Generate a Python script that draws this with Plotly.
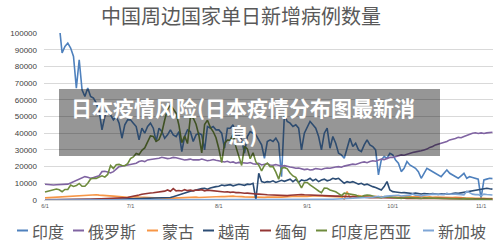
import plotly.graph_objects as go
import pandas as pd

# ---------------- data ----------------
start_date = "2021-06-01"
end_date = "2021-11-05"
dates = pd.date_range(start_date, end_date, freq="D")

x_tick_dates = ["2021-06-01", "2021-07-01", "2021-08-01", "2021-09-01", "2021-10-01", "2021-11-01"]
x_tick_labels = ["6/1", "7/1", "8/1", "9/1", "10/1", "11/1"]
y_tick_values = [0, 10000, 20000, 30000, 40000, 50000, 60000, 70000, 80000, 90000, 100000]

india = [
    130000, 134000, 132000, 127000, 118000, 105000, 88000, 92000, 94000, 91000,
    86000, 67000, 84000, 66000, 62000, 67000, 62000, 61000, 58000, 53000,
    42000, 50000, 54000, 51000, 48000, 50000, 46000, 37000, 45000, 48000,
    48000, 46000, 44000, 36000, 43000, 40000, 44000, 46000, 43000, 35000,
    43000, 41000, 37000, 39000, 42000, 39000, 38000, 41000, 29000, 38000,
    42000, 41000, 35000, 39000, 40000, 39000, 30000, 44000, 43000, 44000, 42000,
    42000, 40000, 31000, 43000, 43000, 45000, 39000, 39000, 36000, 28000,
    38000, 41000, 40000, 39000, 36000, 33000, 25000, 35000, 36000, 35000,
    37000, 34000, 14000, 51000, 47000, 46000, 44000, 45000, 43000, 30000, 40000,
    44000, 47000, 45000, 43000, 38000, 30000, 40000, 43000, 31000, 38000,
    34000, 28000, 27000, 25000, 31000, 37000, 32000, 34000, 30000, 29000,
    33000, 36000, 33000, 32000, 30000, 15000, 24000, 26000, 25000, 28000,
    27000, 24000, 22000, 17000, 19000, 23000, 21000, 20000, 19000, 17000,
    13000, 16000, 19000, 18000, 17000, 16000, 15000, 14000, 16000, 18000,
    16000, 15000, 14000, 13000, 14500, 16000, 13000, 14000, 13500, 13000, 12500,
    1000, 12000, 12500, 13000, 12800,
]
russia = [
    9400, 9200, 9000, 9000, 9100, 9200, 9300, 9600, 9500, 10200,
    11000, 11500, 12300, 13200, 14000, 13600, 13000, 13400, 13800, 14500,
    17000, 17200, 16800, 16200, 17000, 18500, 20000, 20200, 20500, 21000,
    21000, 21500, 22000, 23000, 23500, 23000, 24000, 24300, 24500, 24800,
    25000, 25600, 25200, 24800, 25000, 25500, 25300, 24800, 24500, 24000,
    24200, 24500, 24000, 23800, 24000, 24500, 24000, 23500, 23800, 24200, 23800,
    23500, 23000, 22800, 23200, 22500, 22800, 22000, 22500, 22300, 21800,
    22000, 22400, 21700, 21500, 22000, 21000, 21300, 21800, 21000, 20800,
    21200, 20500, 20200, 20600, 20000, 19800, 19500, 19000, 19200, 18500, 18200,
    18500, 18000, 18200, 18800, 18600, 18300, 18900, 19200, 19000, 19500,
    19800, 20000, 19600, 20300, 20800, 21000, 21500, 21300, 22000, 22500,
    22800, 22300, 23000, 23500, 23200, 24000, 24500, 24200, 25000, 25500,
    25500, 26000, 26500, 27000, 26800, 27500, 28000, 28500, 28800, 29000,
    29500, 30000, 30500, 31500, 32000, 33000, 33500, 34000, 34500, 35000,
    36000, 36300, 36800, 37500, 37300, 38000, 38800, 39300, 40000, 40300, 39800,
    40200, 39800, 40200, 40500, 40600,
]
mongolia = [
    1300, 1400, 1500, 1450, 1600, 1700, 1800, 2000, 2100, 2200,
    2400, 2500, 2700, 2900, 3000, 2900, 2800, 3000, 3100, 2900,
    2700, 2600, 2500, 2400, 2300, 2200, 2000, 1800, 1700, 1600,
    1700, 1900, 2000, 1800, 1700, 1600, 1500, 1600, 1500, 1400,
    1300, 1200, 1000, 600, 900, 1100, 1200, 1300, 1400, 1300,
    1500, 1400, 1600, 1700, 1500, 1600, 1800, 1700, 1900, 2000, 1800,
    1900, 2100, 2000, 2200, 2400, 2300, 2100, 2200, 2000, 1900,
    1800, 1700, 1600, 1800, 1700, 1500, 1600, 1700, 1800, 1700,
    1600, 1800, 1700, 1900, 2000, 2100, 2200, 2300, 2200, 2400, 2300,
    2200, 2400, 2300, 2500, 2400, 2600, 2300, 2200, 2400, 2100,
    2300, 2000, 1800, 400, 5000, 1500, 2400, 2200, 2600, 2300,
    2100, 2400, 2000, 1900, 2200, 1800, 2100, 1700, 1900, 1600,
    1700, 1800, 1600, 1900, 1700, 2000, 1800, 1900, 2100, 1900,
    2000, 1800, 1700, 1900, 1600, 1800, 1700, 1500, 1600, 1700,
    1500, 1400, 1600, 1300, 1400, 1200, 1300, 1100, 1200, 1000, 1100,
    900, 1000, 850, 900, 800,
]
vietnam = [
    150, 180, 200, 180, 250, 300, 220, 280, 250, 300,
    350, 300, 280, 320, 300, 350, 400, 380, 350, 400,
    420, 450, 400, 450, 500, 480, 520, 500, 550, 600,
    650, 700, 750, 800, 850, 900, 800, 1000, 1000, 1100,
    1150, 1200, 1150, 1200, 1500, 2000, 2600, 3200, 3800, 4300,
    4800, 5200, 5500, 6000, 6500, 6800, 7000, 6500, 7200, 7800, 8000,
    8200, 9000, 8600, 8800, 9200, 8500, 9000, 9400, 9100, 8800,
    9500, 9300, 10000, 300, 16000, 11000, 10500, 11000, 10800, 11500,
    10500, 11000, 11800, 11200, 12000, 12500, 11000, 12300, 10500, 12000, 11500,
    12000, 13000, 11500, 12500, 11000, 12000, 12500, 11500, 12000, 13000,
    12500, 13000, 11500, 10000, 11000, 10500, 11000, 10000, 9500, 10000,
    9000, 9500, 8500, 8000, 7500, 6500, 6000, 8000, 11000, 6000,
    5000, 4800, 4500, 4300, 4400, 4200, 4000, 3900, 4100, 3800,
    3600, 3900, 3700, 3500, 3800, 3600, 3400, 3700, 3500, 3800,
    3600, 3900, 4200, 4000, 4300, 4800, 5000, 5200, 5500, 5800, 6000,
    6200, 6800, 7000, 6700, 6500,
]
myanmar = [
    100, 150, 120, 180, 200, 150, 250, 200, 300, 250,
    280, 300, 350, 300, 400, 420, 380, 450, 500, 550,
    600, 650, 700, 750, 850, 900, 1000, 1100, 1300, 1500,
    2000, 2200, 2500, 3000, 3400, 3800, 4000, 4200, 4300, 4500,
    4600, 5000, 5300, 6000, 5200, 6800, 5500, 5700, 5400, 6200,
    5600, 5900, 5500, 6000, 5800, 6200, 5500, 5900, 5700, 5400, 5200,
    5000, 5100, 4800, 4900, 4600, 4800, 4400, 4500, 4200, 4000,
    4100, 3800, 3900, 3600, 3500, 3200, 3300, 3100, 3000, 3100,
    2900, 2800, 2700, 2900, 2600, 2800, 3000, 3200, 3400, 3300, 3100,
    3000, 2900, 2800, 2700, 2600, 2700, 2500, 2600, 2400, 2500,
    2300, 2400, 2200, 2100, 2000, 2100, 1900, 1800, 1700, 1800,
    1600, 1500, 1400, 1500, 1400, 1300, 1400, 1300, 1200, 1300,
    1200, 1300, 1100, 1200, 1100, 1000, 1100, 1000, 1200, 1100,
    1000, 900, 1000, 900, 950, 900, 1000, 850, 900, 800,
    850, 800, 900, 800, 750, 800, 700, 750, 700, 800, 700,
    700, 650, 700, 600, 650,
]
indonesia = [
    4800, 5300, 5400, 6000, 6600, 6100, 5000, 6300, 6300, 8900,
    8100, 8600, 9900, 8200, 8200, 10000, 12600, 13000, 12900, 13700,
    14500, 13700, 15300, 20600, 18900, 21100, 21300, 20700, 20500, 21800,
    24800, 25800, 27900, 27200, 29700, 31200, 34400, 38400, 38100, 35100,
    36200, 40400, 47900, 54500, 56800, 54000, 52000, 44700, 34300, 38300,
    33800, 49500, 49100, 45400, 38700, 28200, 45200, 47800, 43500, 41000, 37300,
    30700, 22400, 33900, 35900, 35800, 39500, 31800, 26400, 20700, 32100,
    30600, 24700, 28300, 22800, 20800, 17400, 20700, 22100, 20000, 20000,
    16700, 12400, 19000, 19500, 18700, 16100, 14400, 13600, 10600, 7300, 10500,
    10500, 9000, 8100, 6700, 5400, 4400, 7200, 7000, 6000, 5600,
    4900, 3800, 2600, 4100, 3900, 3800, 3400, 3000, 2200, 1900,
    2700, 3000, 2800, 2600, 2000, 1600, 1400, 2000, 2100, 1900,
    1600, 1400, 1100, 1000, 1400, 1600, 1400, 1300, 1100, 900,
    900, 1300, 1200, 1100, 1000, 900, 700, 600, 900, 900,
    800, 700, 600, 450, 600, 800, 900, 700, 700, 500, 500,
    400, 600, 700, 500, 400,
]
singapore = [
    15, 20, 25, 18, 20, 15, 13, 12, 15, 18,
    20, 17, 14, 12, 20, 26, 30, 25, 22, 20,
    18, 16, 20, 25, 22, 20, 18, 15, 12, 15,
    15, 18, 25, 30, 20, 15, 30, 45, 50, 60,
    70, 80, 90, 56, 100, 130, 165, 180, 170, 180,
    190, 200, 180, 160, 170, 150, 130, 140, 120, 110, 100,
    100, 110, 100, 90, 80, 90, 85, 80, 70, 60,
    55, 60, 50, 45, 55, 60, 70, 75, 80, 90,
    95, 100, 110, 120, 130, 140, 150, 160, 170, 180, 190,
    190, 200, 230, 260, 280, 300, 350, 400, 450, 480,
    550, 600, 650, 840, 840, 910, 940, 1000, 1010, 1100,
    1180, 1460, 1500, 1650, 1940, 2240, 1650, 2200, 2300, 2450,
    2480, 2900, 2800, 2400, 2500, 2800, 2900, 3600, 2800, 2800,
    2400, 2800, 3200, 3200, 3500, 3400, 3300, 3100, 3200, 3900,
    3600, 3400, 3500, 3300, 3200, 3100, 5300, 4200, 3500, 3200, 3300,
    2500, 3500, 3300, 3200, 3000,
]

series_names = ["印度", "俄罗斯", "蒙古", "越南", "缅甸", "印度尼西亚", "新加坡"]
series_values = [india, russia, mongolia, vietnam, myanmar, indonesia, singapore]
series_colors = ["#4F81BD", "#8064A2", "#F79646", "#2C4D75", "#943634", "#6E8B3D", "#7FA6D6"]

chart_title = "中国周边国家单日新增病例数量"
banner_text = "日本疫情风险(日本疫情分布图最新消<br>息)"

for n, v in zip(series_names, series_values):
    if len(v) != len(dates):
        print("length mismatch", n, len(v), len(dates))

# ---------------- layout geometry (pixels) ----------------
W, H = 500, 245
PL, PR, PT, PB = 44, 493, 33, 200


def px(x):
    return (x - PL) / (PR - PL)


def py(y):
    return (PB - y) / (PB - PT)


CJK = "Noto Sans CJK SC"
GRAY = "#595959"

fig = go.Figure()
for name, vals, col in zip(series_names, series_values, series_colors):
    fig.add_trace(go.Scatter(
        x=dates, y=vals, name=name, mode="lines",
        line=dict(color=col, width=1.6),
        showlegend=False,
    ))

d0 = pd.Timestamp(start_date)
x_lo = d0 - pd.Timedelta(hours=0.35 * 24)
x_hi = d0 + pd.Timedelta(hours=157.19 * 24)

fig.update_layout(
    width=W, height=H,
    margin=dict(l=PL, r=W - PR, t=PT, b=H - PB, pad=0),
    paper_bgcolor="white", plot_bgcolor="white",
    font=dict(family=CJK, color=GRAY),
    xaxis=dict(
        type="date", range=[x_lo, x_hi],
        tickmode="array", tickvals=x_tick_dates, ticktext=x_tick_labels,
        tickfont=dict(size=5.5, color=GRAY, family="Liberation Sans"),
        showgrid=False, showline=True, linecolor="#D9D9D9", linewidth=1,
        ticks="", zeroline=False,
    ),
    yaxis=dict(
        range=[0, 100000], tickmode="array", tickvals=y_tick_values,
        tickformat="d",
        tickfont=dict(size=8, color="#404040", family="Liberation Sans"),
        showgrid=True, gridcolor="#D9D9D9", gridwidth=1,
        zeroline=False, showline=False, ticks="",
        ticklabelstandoff=6,
    ),
)

annotations = []
shapes = []

# title
annotations.append(dict(
    text=chart_title, xref="paper", yref="paper", x=px(241), y=py(16),
    xanchor="center", yanchor="middle", showarrow=False,
    font=dict(family=CJK, size=20, color=GRAY),
))

# manual legend
legend_swatch_x = [17, 73, 147, 203, 260, 316, 423]
LEG_Y = 230.5
for sx, name, col in zip(legend_swatch_x, series_names, series_colors):
    shapes.append(dict(
        type="line", xref="paper", yref="paper",
        x0=px(sx), x1=px(sx + 11), y0=py(LEG_Y), y1=py(LEG_Y),
        line=dict(color=col, width=2),
    ))
    annotations.append(dict(
        text=name, xref="paper", yref="paper", x=px(sx + 13), y=py(LEG_Y),
        xanchor="left", yanchor="middle", showarrow=False,
        font=dict(family=CJK, size=16, color=GRAY),
    ))

# grey overlay banner with text
shapes.append(dict(
    type="rect", xref="paper", yref="paper", layer="above",
    x0=px(59), x1=px(440), y0=py(156), y1=py(89),
    fillcolor="rgba(0,0,0,0.41)", line=dict(width=0),
))
annotations.append(dict(
    text="<b>" + banner_text + "</b>", xref="paper", yref="paper",
    x=px(243), y=py(120.5), xanchor="center", yanchor="middle",
    align="center", showarrow=False,
    font=dict(family=CJK, size=21, color="white"),
))

fig.update_layout(annotations=annotations, shapes=shapes)
fig.write_html("out.html")
